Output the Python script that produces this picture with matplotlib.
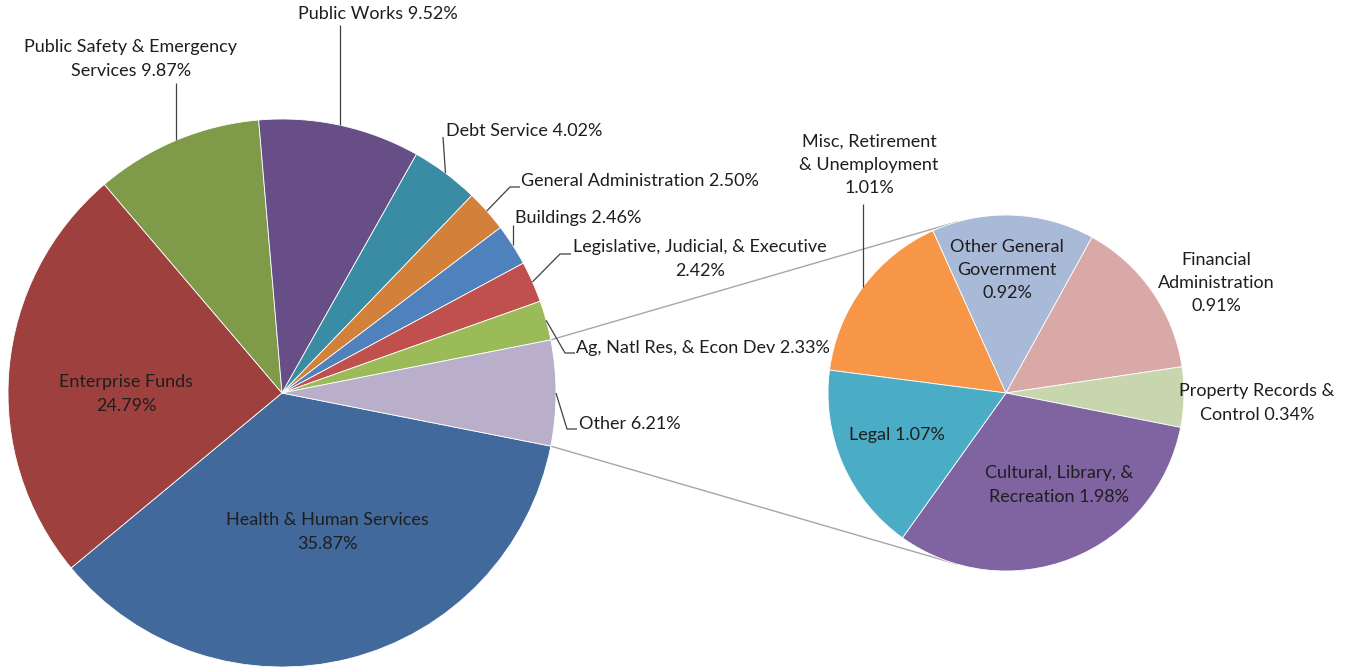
import math
import matplotlib.pyplot as plt

W, H = 1361, 671

# ---- data ----
# main pie, clockwise from the lower edge of the "Other" slice
main_names = ['Health & Human Services', 'Enterprise Funds',
              'Public Safety & Emergency\nServices', 'Public Works',
              'Debt Service', 'General Administration', 'Buildings',
              'Legislative, Judicial, & Executive',
              'Ag, Natl Res, & Econ Dev', 'Other']
main_vals = [35.87, 24.79, 9.87, 9.52, 4.02, 2.50, 2.46, 2.42, 2.33, 6.21]
main_seps = ['\n', '\n', ' ', ' ', ' ', ' ', ' ', '\n', ' ', ' ']
main_colors = ['#41699B', '#9E413E', '#7F9A48', '#674E87', '#3A8CA4',
               '#D2803A', '#4F81BD', '#C0504D', '#9BBB59', '#B9AFCB']

# breakdown of "Other", clockwise
sub_names = ['Misc, Retirement\n& Unemployment', 'Other General\nGovernment',
             'Financial\nAdministration', 'Property Records &\nControl',
             'Cultural, Library, &\nRecreation', 'Legal']
sub_vals = [1.01, 0.92, 0.91, 0.34, 1.98, 1.07]
sub_seps = ['\n', '\n', '\n', ' ', ' ', ' ']
sub_colors = ['#F79646', '#A9B9D8', '#D9A9A8', '#C7D6AD', '#8064A2', '#4BACC6']

# label placement in pixels (x, y from top, ha, leader knees); None x = straight up
main_pos = [
    (327, 532, 'center', None),
    (126, 394, 'center', None),
    (131, 59, 'center', [(None, 83)]),
    (378, 14, 'center', [(None, 25)]),
    (446, 131, 'left', [(443, 137)]),
    (521, 181, 'left', [(510, 187), (520, 187)]),
    (515, 218, 'left', [(None, 225)]),
    (700, 259, 'center', [(560, 254), (571, 254)]),
    (576, 348, 'left', [(565, 353), (575, 353)]),
    (579, 424, 'left', [(567, 429), (577, 429)]),
]
sub_pos = [
    (869, 165, 'center', [(None, 204)]),
    (1007, 270, 'center', None),
    (1216, 283, 'center', None),
    (1257, 403, 'center', None),
    (1059, 485, 'center', None),
    (897, 435, 'center', None),
]

main_c, main_r = (282, 393), 274
sub_c, sub_r = (1006, 393), 178

plt.rcParams['font.family'] = ['Lato', 'DejaVu Sans']
FS = 13
TXT = '#1E1E1E'


def up(y):
    return H - y


fig = plt.figure(figsize=(W / 100, H / 100), dpi=100)
ax = fig.add_axes([0, 0, 1, 1])

wp = dict(edgecolor='white', linewidth=0.6)
start = -180 * main_vals[-1] / sum(main_vals)
main_w, _ = ax.pie(main_vals, colors=main_colors, startangle=start,
                   counterclock=False, center=(main_c[0], up(main_c[1])),
                   radius=main_r, wedgeprops=wp)
sub_w, _ = ax.pie(sub_vals, colors=sub_colors, startangle=172.6,
                  counterclock=False, center=(sub_c[0], up(sub_c[1])),
                  radius=sub_r, wedgeprops=wp)


def labels(wedges, names, vals, seps, pos, c, r):
    for w, n, v, s, (x, y, ha, knees) in zip(wedges, names, vals, seps, pos):
        ax.text(x, up(y), f'{n}{s}{v:.2f}%', ha=ha, va='center',
                multialignment='center', fontsize=FS, color=TXT,
                linespacing=1.55)
        if knees:
            mid = math.radians((w.theta1 + w.theta2) / 2)
            px = c[0] + r * math.cos(mid)
            py = up(c[1]) + r * math.sin(mid)
            xs, ys = [px], [py]
            for kx, ky in knees:
                xs.append(px if kx is None else kx)
                ys.append(up(ky))
            ax.plot(xs, ys, color='#404040', lw=0.9, solid_capstyle='butt')


labels(main_w, main_names, main_vals, main_seps, main_pos, main_c, main_r)
labels(sub_w, sub_names, sub_vals, sub_seps, sub_pos, sub_c, sub_r)

# connector lines from the edges of "Other" to tangents of the second pie
other = main_w[-1]
cx, cy = sub_c[0], up(sub_c[1])
for ang, sign in [(other.theta2, -1), (other.theta1, 1)]:
    a = math.radians(ang)
    px = main_c[0] + main_r * math.cos(a)
    py = up(main_c[1]) + main_r * math.sin(a)
    d = math.hypot(px - cx, py - cy)
    phi = math.atan2(py - cy, px - cx)
    t = phi + sign * math.acos(sub_r / d)
    ax.plot([px, cx + sub_r * math.cos(t)], [py, cy + sub_r * math.sin(t)],
            color='#A6A6A6', lw=1, zorder=0)

ax.set_xlim(0, W)
ax.set_ylim(0, H)
ax.axis('off')

fig.savefig('out.png', dpi=100)
